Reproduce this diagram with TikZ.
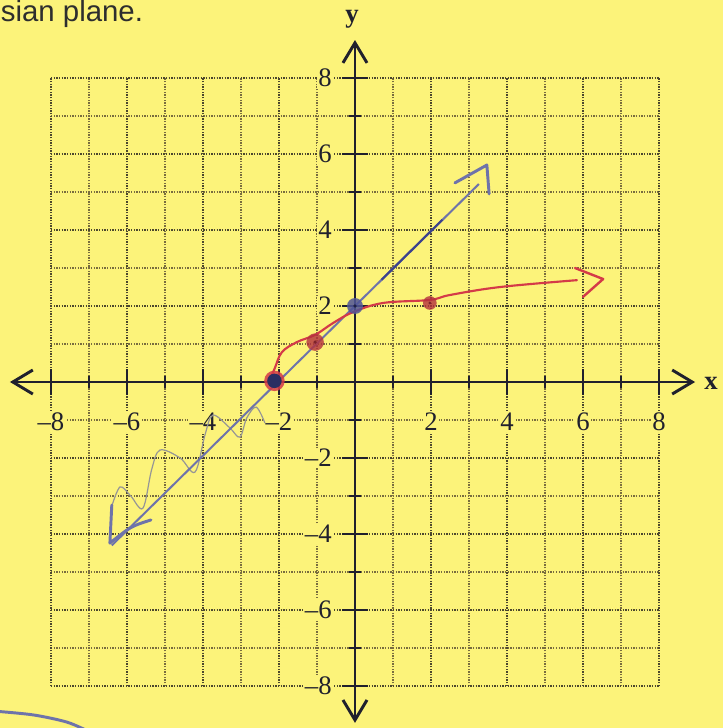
\documentclass[tikz,border=0pt]{standalone}
\usepackage{fontspec}
\setmainfont{Liberation Serif}
\newfontfamily\capfont{Liberation Sans}
\usetikzlibrary{arrows.meta}
\definecolor{paper}{RGB}{252,243,122}
\definecolor{ink}{RGB}{32,32,45}
\definecolor{gridd}{RGB}{75,70,45}
\definecolor{gridl}{RGB}{120,108,62}
\definecolor{pen}{RGB}{212,58,72}
\definecolor{bic}{RGB}{110,115,170}
\definecolor{bicd}{RGB}{60,66,140}
\definecolor{lead}{RGB}{150,150,150}
\tikzset{
  grideven/.style={gridd,line width=.6pt,dash pattern=on .5pt off .5pt},
  gridodd/.style={gridl,line width=.45pt,dash pattern=on .5pt off .5pt},
  axis/.style={ink,line width=1.1pt,{Straight Barb[length=7.5pt,width=9pt]}-{Straight Barb[length=7.5pt,width=9pt]}},
  tick/.style={ink,line width=1.1pt},
  num/.style={ink,fill=paper,inner sep=.6pt},
  hand/.style={line width=.8pt,line cap=round,line join=round}
}
\begin{document}
\begin{tikzpicture}[x=.5cm,y=.5cm,line width=.35pt,font=\normalsize]
\fill[paper] (-9.342,-9.105) rectangle (9.684,10.053);
\useasboundingbox (-9.342,-9.105) rectangle (9.684,10.053);
\node[anchor=base west,inner sep=0pt,text=black!82] (cap) at (-9.33,9.5) {\capfont\fontsize{11pt}{13pt}\selectfont sian plane.};
\foreach \i in {-7,-5,...,7} {\draw[gridodd] (\i,-8)--(\i,8); \draw[gridodd] (-8,\i)--(8,\i);}
\foreach \i in {-8,-6,...,8} {\draw[grideven] (\i,-8)--(\i,8); \draw[grideven] (-8,\i)--(8,\i);}
\coordinate (W) at (-9.08,0);\coordinate (E) at (8.95,0);
\coordinate (N) at (0,9);\coordinate (S) at (0,-8.97);
\draw[axis] (W)--(E);\draw[axis] (S)--(N);
\foreach \i in {-7,-5,...,7} {\draw[tick] (\i,-.16)--(\i,.16); \draw[tick] (-.17,\i)--(.17,\i);}
\foreach \i in {-8,-6,-4,-2,2,4,6,8} {\draw[tick] (\i,-.33)--(\i,.33); \draw[tick] (-.33,\i)--(.33,\i);}
\foreach \i in {2,4,6,8} {
  \node[num] (xp\i) at (\i,-1.04) {\i};
  \node[num] (xm\i) at (-\i,-1.04) {\textendash\i};
  \node[num,anchor=east] (yp\i) at (-.56,\i) {\i};
  \node[num,anchor=east] (ym\i) at (-.56,-\i) {\textendash\i};
}
\node[ink,font=\bfseries] (xl) at (9.37,-.03) {x};
\node[ink,font=\bfseries] (yl) at (-.08,9.55) {y};
\draw[lead,line width=.45pt] plot[smooth,tension=.55] coordinates {(-2.37,-1.08) (-2.6,-.66) (-2.85,-.95) (-3.03,-1.45) (-3.3,-1.2) (-3.74,-.87) (-3.95,-1.4) (-4.21,-2.37) (-4.6,-2.0) (-5.13,-1.79) (-5.35,-2.3) (-5.58,-3.32) (-5.9,-3.0) (-6.18,-2.76) (-6.39,-3.24)};
\draw[bic,line width=.75pt] (-6.4,-4.3)--(3.26,5.21);
\draw[bicd,line width=.8pt] (.7,2.69)--(2.3,4.27);
\draw[hand,bic,line width=1.1pt] (2.63,5.24)--(3.47,5.71)--(3.53,4.95);
\draw[hand,bic,line width=1.1pt] (-6.4,-3.24)--(-6.45,-4.24) .. controls (-5.9,-3.8) .. (-5.37,-3.63);
\draw[hand,pen] plot[smooth,tension=.6] coordinates {(-2.2,.15) (-2.1,.39) (-1.92,.79) (-1.53,1.05) (-1.05,1.24) (-.58,1.55) (-.05,1.84) (.74,2.08) (1.97,2.16) (2.5,2.29) (3.82,2.5) (5.84,2.68)};
\draw[hand,pen,line width=.9pt] (5.79,3.0)--(6.53,2.71)--(6.0,2.24);
\coordinate (A) at (-2.12,.03);\coordinate (B) at (-1.05,1.05);
\coordinate (C) at (0,2);\coordinate (D) at (1.97,2.08);
\fill[pen,opacity=.85] (A) circle (.27);
\fill[bicd!70!black] (A) circle (.19);
\fill[pen!85!black,opacity=.8] (B) circle (.23);
\fill[pen!60!black] (B) circle (.05);
\fill[bicd!90,opacity=.85] (C) circle (.21);
\fill[bicd!50!black] (C) circle (.05);
\fill[pen!85!black,opacity=.8] (D) circle (.18);
\fill[pen!60!black] (D) circle (.04);
\draw[bic,line width=1.1pt,line cap=round] plot[smooth] coordinates {(-9.5,-8.66) (-8.47,-8.76) (-7.58,-8.95) (-7.0,-9.2)};
\end{tikzpicture}
\end{document}
